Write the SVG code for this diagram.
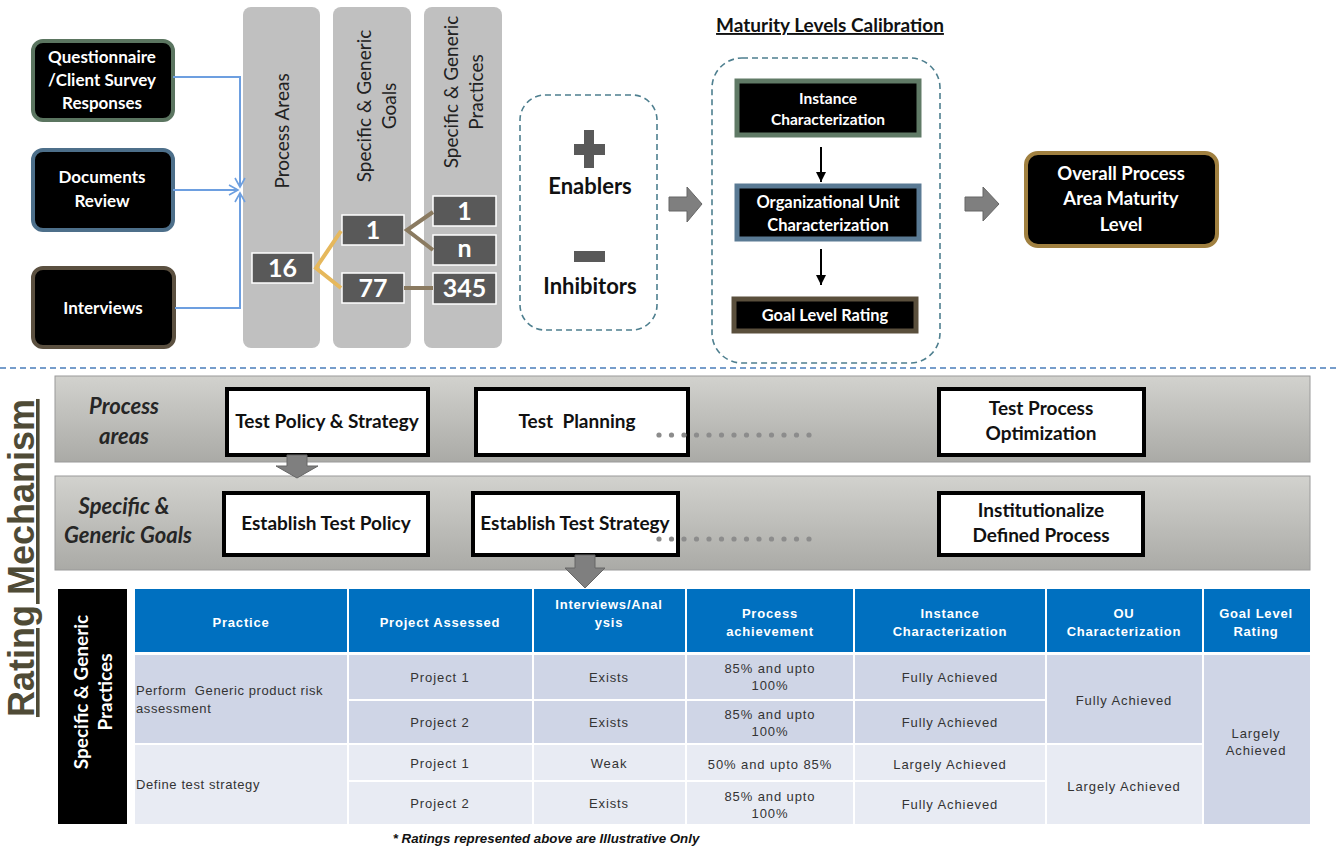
<svg xmlns="http://www.w3.org/2000/svg" width="1338" height="847" viewBox="0 0 1338 847">
<defs>
<linearGradient id="band" x1="0" y1="0" x2="0" y2="1"><stop offset="0" stop-color="#d2d2ce"/><stop offset="1" stop-color="#aaaaa6"/></linearGradient>
<marker id="openArr" markerWidth="12" markerHeight="12" refX="10" refY="6" orient="auto" markerUnits="userSpaceOnUse"><path d="M1,1 L10,6 L1,11" fill="none" stroke="#6d9fe0" stroke-width="1.6"/></marker>
<marker id="blkArr" markerWidth="12" markerHeight="12" refX="10" refY="6" orient="auto" markerUnits="userSpaceOnUse"><path d="M0,1 L10,6 L0,11 Z" fill="#000"/></marker>
<style>
.t{font-family:Lato,"Liberation Sans",sans-serif;font-weight:bold;}
.w{fill:#fff;}
.inbox{fill:#000;stroke-width:4;}
.col{fill:#c0c0c0;}
.ct{font-family:Lato,"Liberation Sans",sans-serif;font-size:19px;fill:#222;text-anchor:middle;}
.num{fill:#595959;stroke:#fff;stroke-width:1.5;}
.numt{font-family:Lato,"Liberation Sans",sans-serif;font-weight:bold;font-size:25px;fill:#fff;text-anchor:middle;}
.dash{fill:none;stroke:#4e7f8f;stroke-width:1.6;stroke-dasharray:6 4;}
.mbox{fill:#000;stroke-width:5;}
.mt{font-family:Lato,"Liberation Sans",sans-serif;font-weight:bold;fill:#fff;text-anchor:middle;}
.garr{fill:#7f7f7f;stroke:#666;stroke-width:1;}
.bandr{fill:url(#band);stroke:#9a9a9a;stroke-width:1;}
.wb{fill:#fff;stroke:#000;stroke-width:4;}
.bt{font-family:Lato,"Liberation Sans",sans-serif;font-weight:bold;font-size:19px;fill:#111;text-anchor:middle;}
.lab{font-family:Lato,"Liberation Sans",sans-serif;font-weight:bold;font-style:italic;font-size:22px;fill:#262626;text-anchor:middle;}
.dot{fill:#8c8c8c;}
.th{fill:#0070c0;}
.tht{font-family:"Liberation Sans",Arial,sans-serif;font-weight:bold;font-size:13px;fill:#fff;text-anchor:middle;letter-spacing:0.8px;}
.r1{fill:#cfd5e6;}
.r2{fill:#e8ebf3;}
.td{font-family:"Liberation Sans",Arial,sans-serif;font-size:13px;fill:#333;text-anchor:middle;letter-spacing:0.9px;}
.tdl{font-family:"Liberation Sans",Arial,sans-serif;font-size:13px;fill:#333;letter-spacing:0.6px;}
</style>
</defs>
<rect width="1338" height="847" fill="#fff"/>

<!-- inputs -->
<g id="node-questionnaire">
<rect class="inbox" x="33" y="41" width="140" height="79" rx="10" stroke="#5b7560"/>
<text class="t w" font-size="17" text-anchor="middle"><tspan x="102" y="63">Questionnaire</tspan><tspan x="102" y="86">/Client Survey</tspan><tspan x="102" y="109">Responses</tspan></text>
</g>
<g id="node-documents">
<rect class="inbox" x="33" y="150" width="140" height="80" rx="10" stroke="#4d6f8a"/>
<text class="t w" font-size="17" text-anchor="middle"><tspan x="102" y="183">Documents</tspan><tspan x="102" y="207">Review</tspan></text>
</g>
<g id="node-interviews">
<rect class="inbox" x="33" y="268" width="141" height="79" rx="10" stroke="#5b5040"/>
<text class="t w" font-size="17" text-anchor="middle" x="103" y="314">Interviews</text>
</g>

<!-- columns -->
<g id="node-process-areas">
<rect class="col" x="243" y="7" width="77" height="341" rx="8"/>
<text class="ct" transform="translate(289,131) rotate(-90)">Process Areas</text>
</g>
<g id="node-goals">
<rect class="col" x="333" y="7" width="78" height="341" rx="8"/>
<text class="ct" transform="translate(371,106) rotate(-90)">Specific &amp; Generic</text>
<text class="ct" transform="translate(396,106) rotate(-90)">Goals</text>
</g>
<g id="node-practices">
<rect class="col" x="424" y="7" width="78" height="341" rx="8"/>
<text class="ct" transform="translate(458,92) rotate(-90)">Specific &amp; Generic</text>
<text class="ct" transform="translate(483,92) rotate(-90)">Practices</text>
</g>
<g id="node-n16"><rect class="num" x="252" y="253" width="61" height="30"/><text class="numt" x="282.5" y="277">16</text></g>
<g id="node-g1"><rect class="num" x="342" y="215" width="62" height="30"/><text class="numt" x="373" y="239">1</text></g>
<g id="node-g77"><rect class="num" x="342" y="273" width="62" height="30"/><text class="numt" x="373" y="297">77</text></g>
<g id="node-p1"><rect class="num" x="433" y="196" width="63" height="30"/><text class="numt" x="464.5" y="220">1</text></g>
<g id="node-pn"><rect class="num" x="433" y="235" width="63" height="30"/><text class="numt" x="464.5" y="257">n</text></g>
<g id="node-p345"><rect class="num" x="433" y="273" width="63" height="31"/><text class="numt" x="464.5" y="297">345</text></g>

<!-- enablers -->
<g id="node-enablers">
<rect class="dash" x="520" y="95" width="137" height="235" rx="25"/>
<rect x="584" y="130" width="10" height="38" fill="#595959"/>
<rect x="574" y="144" width="31" height="11" fill="#595959"/>
<text class="t" font-size="22" fill="#111" text-anchor="middle" x="590" y="194">Enablers</text>
<rect x="574" y="251" width="31" height="11" fill="#595959"/>
<text class="t" font-size="22" fill="#111" text-anchor="middle" x="590" y="294">Inhibitors</text>
</g>

<!-- maturity -->
<g id="node-maturity">
<text class="t" font-size="19" fill="#111" text-anchor="middle" x="830" y="32" text-decoration="underline">Maturity Levels Calibration</text>
<rect class="dash" x="712" y="58" width="228" height="305" rx="30"/>
</g>
<g id="node-instance">
<rect class="mbox" x="737" y="81" width="182" height="54" stroke="#607a66"/>
<text class="mt" font-size="15.5"><tspan x="828" y="104">Instance</tspan><tspan x="828" y="125">Characterization</tspan></text>
</g>
<g id="node-ou">
<rect class="mbox" x="737" y="186" width="182" height="53" stroke="#5a7a94"/>
<text class="mt" font-size="16.5"><tspan x="828" y="208">Organizational Unit</tspan><tspan x="828" y="231">Characterization</tspan></text>
</g>
<g id="node-goal-rating">
<rect class="mbox" x="734" y="299" width="182" height="32" stroke="#5a4f3c"/>
<text class="mt" font-size="16.4" x="825" y="321">Goal Level Rating</text>
</g>
<g id="node-overall">
<rect x="1026" y="153" width="191" height="93" rx="12" fill="#000" stroke="#a08040" stroke-width="4"/>
<text class="mt" font-size="18.5"><tspan x="1121" y="180">Overall Process</tspan><tspan x="1121" y="205">Area Maturity</tspan><tspan x="1121" y="231">Level</tspan></text>
</g>

<line x1="0" y1="368" x2="1338" y2="368" stroke="#4a7ebb" stroke-width="1.5" stroke-dasharray="6 4"/>

<g id="title-rating">
<text font-family="'Liberation Sans',Arial,sans-serif" font-weight="bold" font-size="36" fill="#4f4b36" text-anchor="middle" text-decoration="underline" transform="translate(34,558) rotate(-90)">Rating Mechanism</text>
</g>

<!-- bands -->
<g id="band-process-areas">
<rect class="bandr" x="55" y="376" width="1255" height="86"/>
<text class="lab"><tspan x="124" y="414">Process</tspan><tspan x="124" y="444">areas</tspan></text>
</g>
<g id="node-test-policy"><rect class="wb" x="227" y="389" width="201" height="66"/><text class="bt" x="327" y="428">Test Policy &amp; Strategy</text></g>
<g id="node-test-planning"><rect class="wb" x="476" y="389" width="212" height="66"/><text class="bt" x="577" y="428">Test&#160; Planning</text></g>
<g id="node-test-opt"><rect class="wb" x="939" y="389" width="205" height="66"/><text class="bt"><tspan x="1041" y="415">Test Process</tspan><tspan x="1041" y="440">Optimization</tspan></text></g>
<g id="dots1" class="dot">
<circle cx="659" cy="435" r="2.6"/><circle cx="671.5" cy="435" r="2.6"/><circle cx="684" cy="435" r="2.6"/><circle cx="696.5" cy="435" r="2.6"/><circle cx="709" cy="435" r="2.6"/><circle cx="721.5" cy="435" r="2.6"/><circle cx="734" cy="435" r="2.6"/><circle cx="746.5" cy="435" r="2.6"/><circle cx="759" cy="435" r="2.6"/><circle cx="771.5" cy="435" r="2.6"/><circle cx="784" cy="435" r="2.6"/><circle cx="796.5" cy="435" r="2.6"/><circle cx="809" cy="435" r="2.6"/>
</g>

<g id="band-goals">
<rect class="bandr" x="55" y="476" width="1255" height="94"/>
<text class="lab"><tspan x="124" y="514">Specific &amp;</tspan><tspan x="128" y="543">Generic Goals</tspan></text>
</g>
<g id="node-est-policy"><rect class="wb" x="224" y="493" width="204" height="62"/><text class="bt" x="326" y="530">Establish Test Policy</text></g>
<g id="node-est-strategy"><rect class="wb" x="473" y="493" width="205" height="62"/><text class="bt" x="575" y="530">Establish Test Strategy</text></g>
<g id="node-institutionalize"><rect class="wb" x="939" y="493" width="204" height="62"/><text class="bt"><tspan x="1041" y="517">Institutionalize</tspan><tspan x="1041" y="542">Defined Process</tspan></text></g>
<g id="dots2" class="dot">
<circle cx="659" cy="539" r="2.6"/><circle cx="671.5" cy="539" r="2.6"/><circle cx="684" cy="539" r="2.6"/><circle cx="696.5" cy="539" r="2.6"/><circle cx="709" cy="539" r="2.6"/><circle cx="721.5" cy="539" r="2.6"/><circle cx="734" cy="539" r="2.6"/><circle cx="746.5" cy="539" r="2.6"/><circle cx="759" cy="539" r="2.6"/><circle cx="771.5" cy="539" r="2.6"/><circle cx="784" cy="539" r="2.6"/><circle cx="796.5" cy="539" r="2.6"/><circle cx="809" cy="539" r="2.6"/>
</g>

<!-- table -->
<g id="label-practices">
<rect x="58" y="589" width="69" height="235" fill="#000"/>
<text class="t w" font-size="19" text-anchor="middle" transform="translate(88,692) rotate(-90)">Specific &amp; Generic</text>
<text class="t w" font-size="19" text-anchor="middle" transform="translate(112,692) rotate(-90)">Practices</text>
</g>
<g id="table">
<rect class="th" x="135" y="589" width="212" height="63"/>
<rect class="th" x="349" y="589" width="183" height="63"/>
<rect class="th" x="534" y="589" width="151" height="63"/>
<rect class="th" x="687" y="589" width="166" height="63"/>
<rect class="th" x="855" y="589" width="190" height="63"/>
<rect class="th" x="1047" y="589" width="155" height="63"/>
<rect class="th" x="1204" y="589" width="106" height="63"/>

<rect class="r1" x="135" y="655" width="212" height="88"/>
<rect class="r1" x="349" y="655" width="183" height="44"/>
<rect class="r1" x="349" y="701" width="183" height="42"/>
<rect class="r1" x="534" y="655" width="151" height="44"/>
<rect class="r1" x="534" y="701" width="151" height="42"/>
<rect class="r1" x="687" y="655" width="166" height="44"/>
<rect class="r1" x="687" y="701" width="166" height="42"/>
<rect class="r1" x="855" y="655" width="190" height="44"/>
<rect class="r1" x="855" y="701" width="190" height="42"/>
<rect class="r1" x="1047" y="655" width="155" height="88"/>
<rect class="r2" x="135" y="745" width="212" height="79"/>
<rect class="r2" x="349" y="745" width="183" height="35"/>
<rect class="r2" x="349" y="782" width="183" height="42"/>
<rect class="r2" x="534" y="745" width="151" height="35"/>
<rect class="r2" x="534" y="782" width="151" height="42"/>
<rect class="r2" x="687" y="745" width="166" height="35"/>
<rect class="r2" x="687" y="782" width="166" height="42"/>
<rect class="r2" x="855" y="745" width="190" height="35"/>
<rect class="r2" x="855" y="782" width="190" height="42"/>
<rect class="r2" x="1047" y="745" width="155" height="79"/>
<rect class="r1" x="1204" y="655" width="106" height="169"/>

<text class="tht" x="241" y="627">Practice</text>
<text class="tht" x="440" y="627">Project Assessed</text>
<text class="tht"><tspan x="609" y="609">Interviews/Anal</tspan><tspan x="609" y="627">ysis</tspan></text>
<text class="tht"><tspan x="770" y="618">Process</tspan><tspan x="770" y="636">achievement</tspan></text>
<text class="tht"><tspan x="950" y="618">Instance</tspan><tspan x="950" y="636">Characterization</tspan></text>
<text class="tht"><tspan x="1124" y="618">OU</tspan><tspan x="1124" y="636">Characterization</tspan></text>
<text class="tht"><tspan x="1256" y="618">Goal Level</tspan><tspan x="1256" y="636">Rating</tspan></text>

<text class="tdl"><tspan x="136" y="695">Perform&#160; Generic product risk</tspan><tspan x="136" y="713">assessment</tspan></text>
<text class="tdl" x="136" y="789">Define test strategy</text>
<text class="td" x="440" y="682">Project 1</text>
<text class="td" x="440" y="727">Project 2</text>
<text class="td" x="440" y="768">Project 1</text>
<text class="td" x="440" y="808">Project 2</text>
<text class="td" x="609" y="682">Exists</text>
<text class="td" x="609" y="727">Exists</text>
<text class="td" x="609" y="768">Weak</text>
<text class="td" x="609" y="808">Exists</text>
<text class="td"><tspan x="770" y="673">85% and upto</tspan><tspan x="770" y="690">100%</tspan></text>
<text class="td"><tspan x="770" y="719">85% and upto</tspan><tspan x="770" y="736">100%</tspan></text>
<text class="td" x="770" y="769">50% and upto 85%</text>
<text class="td"><tspan x="770" y="801">85% and upto</tspan><tspan x="770" y="818">100%</tspan></text>
<text class="td" x="950" y="682">Fully Achieved</text>
<text class="td" x="950" y="727">Fully Achieved</text>
<text class="td" x="950" y="769">Largely Achieved</text>
<text class="td" x="950" y="809">Fully Achieved</text>
<text class="td" x="1124" y="705">Fully Achieved</text>
<text class="td" x="1124" y="791">Largely Achieved</text>
<text class="td"><tspan x="1256" y="738">Largely</tspan><tspan x="1256" y="755">Achieved</tspan></text>
</g>
<text x="546" y="843" font-family="'Liberation Sans',Arial,sans-serif" font-size="13.3" font-style="italic" font-weight="bold" fill="#111" text-anchor="middle">* Ratings represented above are Illustrative Only</text>

<!-- connectors -->
<g id="connectors">
<path d="M173,77 H240 V187" fill="none" stroke="#6d9fe0" stroke-width="2" marker-end="url(#openArr)"/>
<path d="M173,190 H238" fill="none" stroke="#6d9fe0" stroke-width="2" marker-end="url(#openArr)"/>
<path d="M175,308 H240 V193" fill="none" stroke="#6d9fe0" stroke-width="2" marker-end="url(#openArr)"/>
<path d="M341,231 L316,268 L341,288" fill="none" stroke="#e6b85c" stroke-width="4"/>
<path d="M433,212 L407,230 L433,250" fill="none" stroke="#8a7a60" stroke-width="4"/>
<path d="M404,288 H433" fill="none" stroke="#8a7a60" stroke-width="4"/>
<path d="M821,147 V182" stroke="#000" stroke-width="2" marker-end="url(#blkArr)"/>
<path d="M821,249 V285" stroke="#000" stroke-width="2" marker-end="url(#blkArr)"/>
<path class="garr" d="M669,197 H687 V187 L702,204 L687,222 V211 H669 Z"/>
<path class="garr" d="M965,197 H983 V187 L999,204 L983,221 V211 H965 Z"/>
<path class="garr" d="M287,455 H307 V466 H318 L297,478 L276,466 H287 Z"/>
<path class="garr" d="M575,555 H595 V568 H605 L585,588 L565,568 H575 Z"/>
</g>
</svg>
